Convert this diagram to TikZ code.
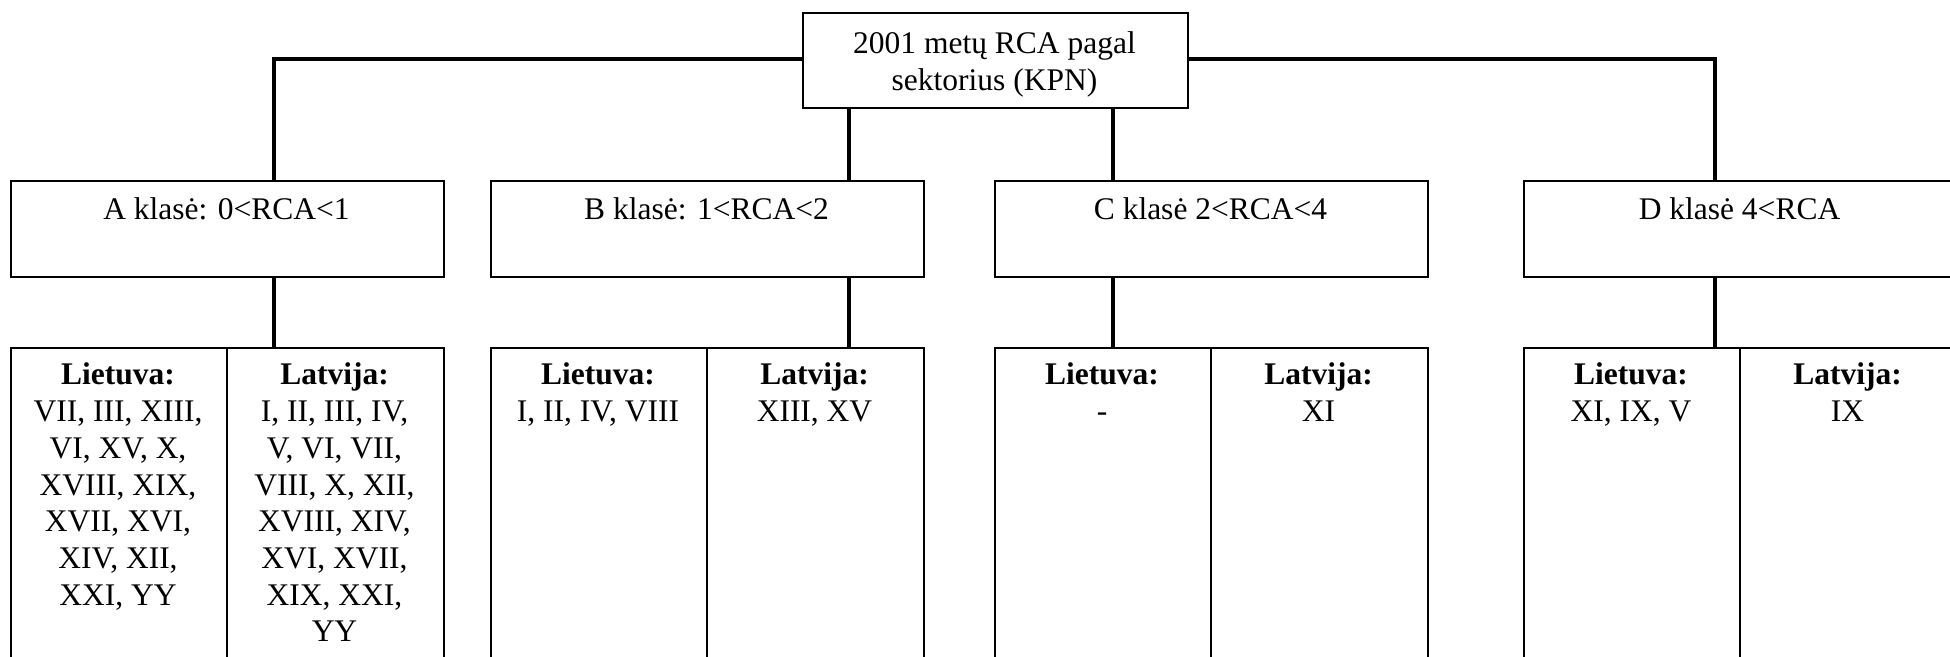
\documentclass[tikz,border=0pt]{standalone}
\usepackage{fontspec}
\setmainfont{Liberation Serif}
\begin{document}
\begin{tikzpicture}[x=0.5pt,y=-0.5pt,
  box/.style={draw=black, line width=1pt, inner sep=0pt, anchor=north west, fill=white},
  conn/.style={draw=black, line width=1.6pt},
  txt/.style={anchor=base, inner sep=0pt, font=\fontsize{15.75}{18.35}\selectfont}]
\useasboundingbox (0,0) rectangle (1950,657);
% vertical connector positions
\coordinate (vA) at (274,0);
\coordinate (vB) at (849,0);
\coordinate (vC) at (1113,0);
\coordinate (vD) at (1715,0);
\coordinate (hy) at (0,59);
% level-2 boxes
\node[box, minimum width=216.5pt, minimum height=48pt] (A) at (10,180) {};
\node[box, minimum width=216.5pt, minimum height=48pt] (B) at (490,180) {};
\node[box, minimum width=216.5pt, minimum height=48pt] (C) at (994,180) {};
\node[box, minimum width=216.5pt, minimum height=48pt] (D) at (1523,180) {};
% top-level connector (drawn behind top box)
\draw[conn] (vA |- A.north) -- (vA |- hy) -- (vD |- hy) -- (vD |- D.north);
% top box
\node[box, minimum width=192.5pt, minimum height=47.5pt] (top) at (802,12) {};
% level-3 boxes
\node[box, minimum width=108pt, minimum height=170pt] (AL) at (10,347) {};
\node[box, minimum width=108.5pt, minimum height=170pt] (AR) at (226,347) {};
\node[box, minimum width=108pt, minimum height=170pt] (BL) at (490,347) {};
\node[box, minimum width=108.5pt, minimum height=170pt] (BR) at (706,347) {};
\node[box, minimum width=108pt, minimum height=170pt] (CL) at (994,347) {};
\node[box, minimum width=108.5pt, minimum height=170pt] (CR) at (1210,347) {};
\node[box, minimum width=108pt, minimum height=170pt] (DL) at (1523,347) {};
\node[box, minimum width=108.5pt, minimum height=170pt] (DR) at (1739,347) {};
% connectors
\draw[conn] (vB |- top.south) -- (vB |- B.north);
\draw[conn] (vC |- top.south) -- (vC |- C.north);
\draw[conn] (vA |- A.south) -- (vA |- AL.north);
\draw[conn] (vB |- B.south) -- (vB |- BL.north);
\draw[conn] (vC |- C.south) -- (vC |- CL.north);
\draw[conn] (vD |- D.south) -- (vD |- DL.north);
% texts
\node[txt] (ttop) at (994.5,54) {\begin{tabular}[t]{@{}c@{}}2001 metų RCA pagal\\sektorius (KPN)\end{tabular}};
\node[txt] (tA) at (226.5,220) {A klasė: 0<RCA<1};
\node[txt] (tB) at (706.5,220) {B klasė: 1<RCA<2};
\node[txt] (tC) at (1210.5,220) {C klasė 2<RCA<4};
\node[txt] (tD) at (1739.5,220) {D klasė 4<RCA};
\node[txt] (tAL) at (118,385) {\begin{tabular}[t]{@{}c@{}}\textbf{Lietuva:}\\VII, III, XIII,\\VI, XV, X,\\XVIII, XIX,\\XVII, XVI,\\XIV, XII,\\XXI, YY\end{tabular}};
\node[txt] (tAR) at (334.5,385) {\begin{tabular}[t]{@{}c@{}}\textbf{Latvija:}\\I, II, III, IV,\\V, VI, VII,\\VIII, X, XII,\\XVIII, XIV,\\XVI, XVII,\\XIX, XXI,\\YY\end{tabular}};
\node[txt] (tBL) at (598,385) {\begin{tabular}[t]{@{}c@{}}\textbf{Lietuva:}\\I, II, IV, VIII\end{tabular}};
\node[txt] (tBR) at (814.5,385) {\begin{tabular}[t]{@{}c@{}}\textbf{Latvija:}\\XIII, XV\end{tabular}};
\node[txt] (tCL) at (1102,385) {\begin{tabular}[t]{@{}c@{}}\textbf{Lietuva:}\\-\end{tabular}};
\node[txt] (tCR) at (1318.5,385) {\begin{tabular}[t]{@{}c@{}}\textbf{Latvija:}\\XI\end{tabular}};
\node[txt] (tDL) at (1631,385) {\begin{tabular}[t]{@{}c@{}}\textbf{Lietuva:}\\XI, IX, V\end{tabular}};
\node[txt] (tDR) at (1847.5,385) {\begin{tabular}[t]{@{}c@{}}\textbf{Latvija:}\\IX\end{tabular}};
\end{tikzpicture}
\end{document}
